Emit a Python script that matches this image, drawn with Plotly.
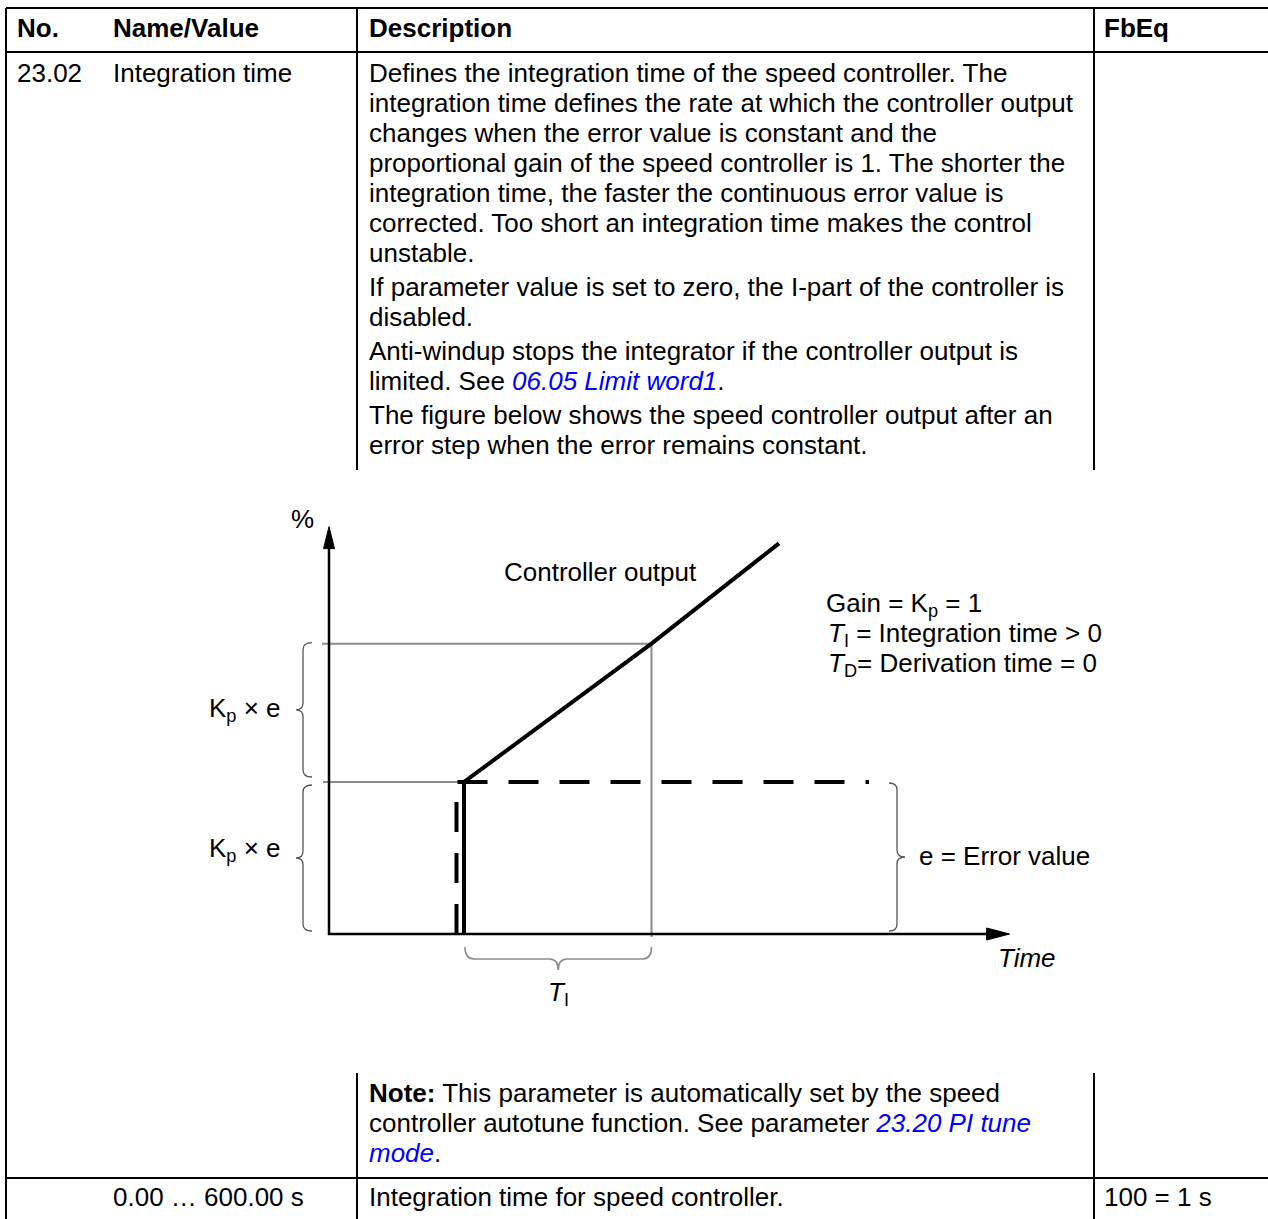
import plotly.graph_objects as go

# ---------------- data ----------------
header_labels = ["No.", "Name/Value", "Description", "FbEq"]
param_no = "23.02"
param_name = "Integration time"
LINK = "<i><span style='color:#0000ff'>{}</span></i>"
desc_lines = [
    "Defines the integration time of the speed controller. The",
    "integration time defines the rate at which the controller output",
    "changes when the error value is constant and the",
    "proportional gain of the speed controller is 1. The shorter the",
    "integration time, the faster the continuous error value is",
    "corrected. Too short an integration time makes the control",
    "unstable.",
    "If parameter value is set to zero, the I-part of the controller is",
    "disabled.",
    "Anti-windup stops the integrator if the controller output is",
    "limited. See " + LINK.format("06.05 Limit word1") + ".",
    "The figure below shows the speed controller output after an",
    "error step when the error remains constant.",
]
note_lines = [
    "<b>Note:</b> This parameter is automatically set by the speed",
    "controller autotune function. See parameter " + LINK.format("23.20 PI tune"),
    LINK.format("mode") + ".",
]
range_text = "0.00 … 600.00 s"
range_desc = "Integration time for speed controller."
fbeq_text = "100 = 1 s"

# diagram data: time in units of T_I, signal in units of e
out_time = [0.72, 0.72, 1.72, 2.40]
out_value = [0.0, 1.0, 1.91, 2.57]
err_time = [0.68, 0.68, 2.88]
err_value = [0.0, 1.0, 1.0]
ti_start, ti_end = 0.72, 1.72
kpe_levels = [1.0, 1.91]
axis_time_max = 3.63
axis_value_max = 2.68
legend_lines = [
    "Gain = K<sub>p</sub> = 1",
    "<i>T</i><sub>I</sub> = Integration time > 0",
    "<i>T</i><sub>D</sub>= Derivation time = 0",
]

# ---------------- layout constants ----------------
W, H = 1268, 1219
FONT = "Liberation Sans, Arial, Helvetica, sans-serif"
FS = 26
X0_PX, XS = 329.0, 187.5   # diagram origin pixel and px per time unit
Y0_PX, YS = 934.0, 152.0   # diagram origin pixel and px per value unit
XR = [-0.5, 3.8]
YR = [-0.5, 2.9]


def dx(p):
    return p / XS


def dy(p):
    return p / YS


x2_dom = [(X0_PX + XR[0] * XS) / W, (X0_PX + XR[1] * XS) / W]
y2_dom = [(H - (Y0_PX - YR[0] * YS)) / H, (H - (Y0_PX - YR[1] * YS)) / H]

fig = go.Figure()

GREY = "#8a8a8a"
# guide lines (grey)
fig.add_trace(go.Scatter(x=[-dx(7), ti_end + dx(1)], y=[kpe_levels[1]] * 2, mode="lines",
                         line=dict(color=GREY, width=2), xaxis="x2", yaxis="y2"))
fig.add_trace(go.Scatter(x=[ti_end, ti_end], y=[kpe_levels[1], -dy(3)], mode="lines",
                         line=dict(color=GREY, width=2), xaxis="x2", yaxis="y2"))
fig.add_trace(go.Scatter(x=[-dx(6), ti_start + dx(7)], y=[kpe_levels[0]] * 2, mode="lines",
                         line=dict(color=GREY, width=2), xaxis="x2", yaxis="y2"))
# error signal (dashed)
fig.add_trace(go.Scatter(x=err_time, y=err_value, mode="lines",
                         line=dict(color="black", width=4, dash="30px,21px"),
                         xaxis="x2", yaxis="y2"))
# controller output
fig.add_trace(go.Scatter(x=out_time, y=out_value, mode="lines",
                         line=dict(color="black", width=4), xaxis="x2", yaxis="y2"))
# axes
fig.add_trace(go.Scatter(x=[0, 0, axis_time_max - dx(10)], y=[axis_value_max - dy(10), 0, 0],
                         mode="lines", line=dict(color="black", width=2.5),
                         xaxis="x2", yaxis="y2"))
# arrow heads
hl, hw = 22, 5.5
fig.add_trace(go.Scatter(x=[0, -dx(hw), dx(hw), 0],
                         y=[axis_value_max, axis_value_max - dy(hl), axis_value_max - dy(hl), axis_value_max],
                         mode="lines", fill="toself", fillcolor="black",
                         line=dict(color="black", width=1), xaxis="x2", yaxis="y2"))
fig.add_trace(go.Scatter(x=[axis_time_max, axis_time_max - dx(hl + 1), axis_time_max - dx(hl + 1), axis_time_max],
                         y=[0, dy(hw + 0.5), -dy(hw + 0.5), 0],
                         mode="lines", fill="toself", fillcolor="black",
                         line=dict(color="black", width=1), xaxis="x2", yaxis="y2"))

shapes = []


def vbrace(x_spine, x_end, x_tip, y_top, y_bot, r):
    ym = (y_top + y_bot) / 2
    return (f"M {x_end},{y_top} Q {x_spine},{y_top} {x_spine},{y_top - r} "
            f"L {x_spine},{ym + r} Q {x_spine},{ym} {x_tip},{ym} "
            f"Q {x_spine},{ym} {x_spine},{ym - r} "
            f"L {x_spine},{y_bot + r} Q {x_spine},{y_bot} {x_end},{y_bot}")


def hbrace(y_spine, y_end, y_tip, x_left, x_right, r):
    xm = (x_left + x_right) / 2
    return (f"M {x_left},{y_end} Q {x_left},{y_spine} {x_left + r},{y_spine} "
            f"L {xm - r},{y_spine} Q {xm},{y_spine} {xm},{y_tip} "
            f"Q {xm},{y_spine} {xm + r},{y_spine} "
            f"L {x_right - r},{y_spine} Q {x_right},{y_spine} {x_right},{y_end}")


BR = dict(color="#555555", width=1.3)
# left braces (Kp x e)
shapes.append(dict(type="path", xref="x2", yref="y2", line=BR,
                   path=vbrace(-dx(26), -dx(17), -dx(33), kpe_levels[1] + dy(1), kpe_levels[0] + dy(5), dy(7))))
shapes.append(dict(type="path", xref="x2", yref="y2", line=BR,
                   path=vbrace(-dx(26), -dx(17), -dx(33), kpe_levels[0] - dy(3), dy(3), dy(7))))
# right brace (error)
e_end = err_time[-1]
shapes.append(dict(type="path", xref="x2", yref="y2", line=BR,
                   path=vbrace(e_end + dx(28), e_end + dx(20), e_end + dx(36), err_value[-1] - dy(1), dy(3), dy(7))))
# bottom brace (T_I)
shapes.append(dict(type="path", xref="x2", yref="y2", line=dict(color=GREY, width=1.6),
                   path=hbrace(-dy(25), -dy(13), -dy(36), ti_start + dx(1), ti_end, dx(9))))

# table lines
TL = dict(color="black", width=2)
for (x0, y0, x1, y1) in [(6, 8, W, 8), (6, 52, W, 52), (6, 8, 6, H),
                         (357, 8, 357, 470), (1094, 8, 1094, 470),
                         (357, 1073, 357, H), (1094, 1073, 1094, H),
                         (6, 1178, W, 1178)]:
    shapes.append(dict(type="line", xref="x", yref="y", x0=x0, y0=y0, x1=x1, y1=y1, line=TL))

ann = []


def txt(x, y, s, anchor="left", size=FS):
    if anchor == "left":
        x -= 2
    ann.append(dict(x=x, y=y, xref="x", yref="y", text=s, showarrow=False,
                    xanchor=anchor, yanchor="middle",
                    font=dict(family=FONT, size=size, color="black")))


hx = [17, 113, 369, 1104]
for x, lab in zip(hx, header_labels):
    txt(x, 28, f"<b>{lab}</b>")
txt(17, 73, param_no)
txt(113, 73, param_name)
desc_y = [73, 103, 133, 163, 193, 223, 253, 287, 317, 351, 381, 415, 445]
for y, s in zip(desc_y, desc_lines):
    txt(369, y, s)
for y, s in zip([1093, 1123, 1153], note_lines):
    txt(369, y, s)
txt(113, 1197, range_text)
txt(369, 1197, range_desc)
txt(1104, 1197, fbeq_text)

# diagram labels
txt(302, 519, "%", anchor="center")
txt(504, 572, "Controller output")
for y, s, x in zip([604, 634, 664], legend_lines, [826, 828, 828]):
    txt(x, y, s)
txt(209, 709, "K<sub>p</sub> × e")
txt(209, 849, "K<sub>p</sub> × e")
txt(919, 856, "e = Error value")
txt(998, 958, "<i>Time</i>")
txt(548, 993, "<i>T</i><sub>I</sub>")

fig.update_layout(
    width=W, height=H, margin=dict(l=0, r=0, t=0, b=0),
    paper_bgcolor="white", plot_bgcolor="rgba(0,0,0,0)",
    showlegend=False, hovermode=False,
    xaxis=dict(range=[0, W], visible=False, domain=[0, 1], fixedrange=True),
    yaxis=dict(range=[H, 0], visible=False, domain=[0, 1], fixedrange=True),
    xaxis2=dict(range=XR, visible=False, domain=x2_dom, anchor="y2", fixedrange=True),
    yaxis2=dict(range=YR, visible=False, domain=y2_dom, anchor="x2", fixedrange=True),
    shapes=shapes, annotations=ann,
)

fig.write_html("out.html", config={"displayModeBar": False},
               post_script="document.body.style.margin='0';document.body.style.overflow='hidden';")
